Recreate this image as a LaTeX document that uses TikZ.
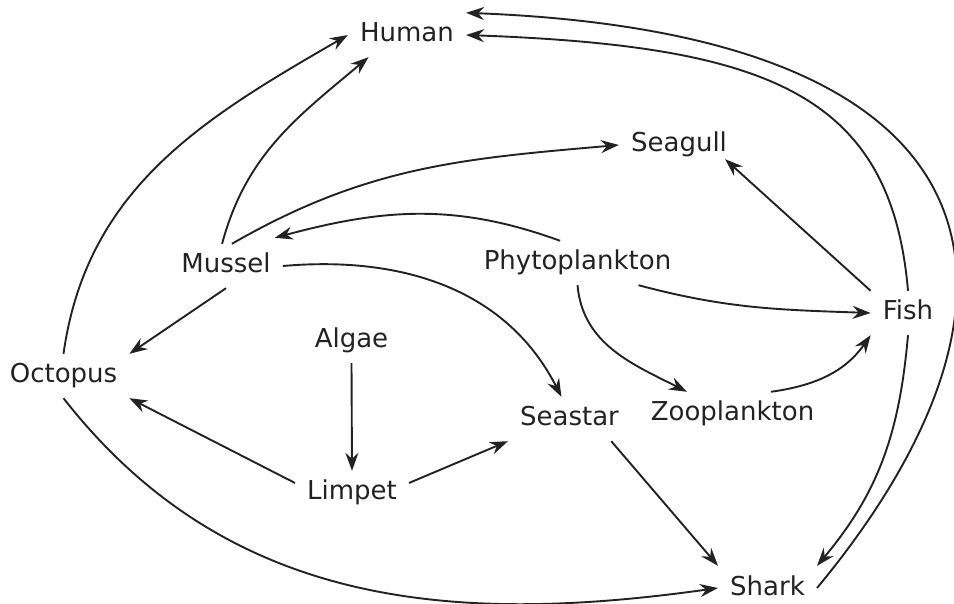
\documentclass[tikz,border=0pt]{standalone}
\usepackage{fontspec}
\setmainfont{DejaVu Sans}
\usepackage{xcolor}
\usepackage{tikz}
\usetikzlibrary{arrows.meta}

\definecolor{inkgray}{HTML}{222222}

\begin{document}
\begin{tikzpicture}[x=1pt,y=1pt,
  species/.style={anchor=base, font=\fontsize{26}{30}\selectfont, text=inkgray,
    text height=19pt, text depth=5pt, inner xsep=12pt, inner ysep=10pt},
  eats/.style={draw=inkgray, line width=1.9pt, -{Stealth[length=18pt,width=13pt,inset=6pt]}}]
  \useasboundingbox (0,0) rectangle (954,603);

  % species
  \node[species] (human)   at (407,561) {Human};
  \node[species] (seagull) at (679,451) {Seagull};
  \node[species] (mussel)  at (226,330) {Mussel};
  \node[species] (phyto)   at (577.5,333) {Phytoplankton};
  \node[species] (fish)    at (908,283) {Fish};
  \node[species] (algae)   at (351.5,255) {Algae};
  \node[species] (octopus) at (63.5,220) {Octopus};
  \node[species] (seastar) at (569.5,177) {Seastar};
  \node[species] (zoo)     at (732.5,182) {Zooplankton};
  \node[species] (limpet)  at (352,103) {Limpet};
  \node[species] (shark)   at (767.5,8) {Shark};

  % long arcs into Human
  \draw[eats] (shark.east) .. controls (1045,290) and (1035,568) .. (human.north east);
  \draw[eats] (fish.north) .. controls (891,511) and (765,557) .. (human.east);
  \draw[eats] (octopus.north) to[out=82,in=210] (human.west);
  \draw[eats] (mussel.100) to[out=75,in=220] (human.210);

  % who eats whom
  \draw[eats] (fish.north west) -- ([xshift=-14pt,yshift=8pt]seagull.south east);
  \draw[eats] (mussel.75) to[out=30,in=185] (seagull.west);
  \draw[eats] (phyto.128) to[out=160,in=15] ([xshift=-8pt,yshift=6pt]mussel.north east);
  \draw[eats] (phyto.-20) to[out=-15,in=178] (fish.west);
  \draw[eats] (phyto.south) to[out=-85,in=153] (zoo.154);
  \draw[eats] (zoo.30) to[out=8,in=-125] (fish.south west);
  \draw[eats] (fish.south) to[out=-95,in=50] (shark.north east);
  \draw[eats] (seastar.-28) -- (shark.north west);
  \draw[eats] (octopus.south) to[out=-52,in=188] (shark.west);
  \draw[eats] (mussel.east) to[out=5,in=117] (seastar.110);
  \draw[eats] (mussel.south) -- (octopus.north east);
  \draw[eats] (algae.south) -- (limpet.north);
  \draw[eats] (limpet.170) -- (octopus.south east);
  \draw[eats] (limpet.10) -- (seastar.south west);

\end{tikzpicture}
\end{document}
